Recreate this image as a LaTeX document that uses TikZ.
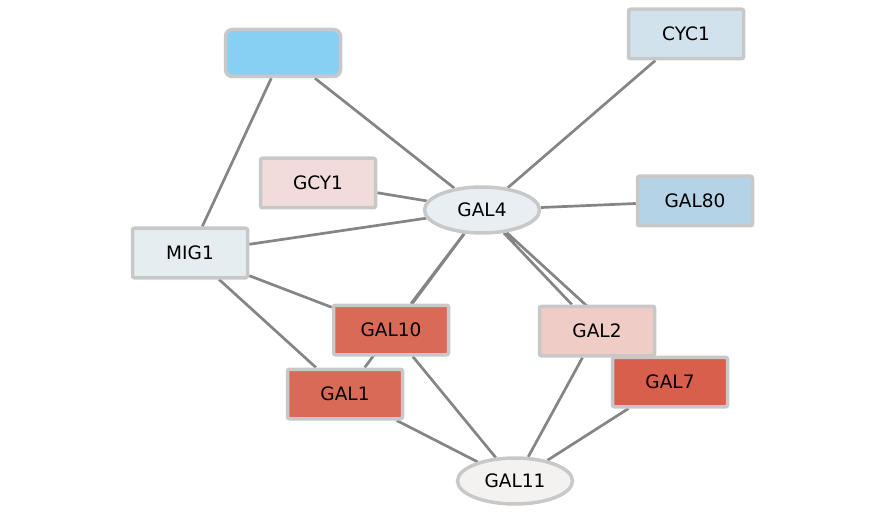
\documentclass[tikz,border=0pt]{standalone}
\usepackage{fontspec}
\setmainfont{DejaVu Sans}
\usetikzlibrary{shapes.geometric,backgrounds}
\definecolor{edgegray}{HTML}{858585}
\definecolor{rimgray}{HTML}{C8C8C8}
\definecolor{skyfill}{HTML}{88D0F3}
\definecolor{cycfill}{HTML}{D2E2EC}
\definecolor{gcyfill}{HTML}{F1DBDB}
\definecolor{galfourfill}{HTML}{E8EEF2}
\definecolor{galeightyfill}{HTML}{B4D3E6}
\definecolor{migfill}{HTML}{E6EDF1}
\definecolor{galtenfill}{HTML}{DA6A58}
\definecolor{galtwofill}{HTML}{EFCCC6}
\definecolor{galsevenfill}{HTML}{D75F4C}
\definecolor{galelevenfill}{HTML}{F4F1F1}
\tikzset{
    gene/.style = {draw = rimgray, line width = 3.5pt, rounded corners = 2pt,
        minimum width = 115pt, minimum height = 49.5pt, inner sep = 0pt,
        font = \fontsize{18.5}{22}\selectfont},
    hub/.style = {gene, ellipse, minimum height = 46pt},
    link/.style = {draw = edgegray, line width = 2.7pt}
}

\begin{document}
\begin{tikzpicture}[x = 1pt, y = -1pt]%
    \useasboundingbox (0, 0) rectangle (886, 513);
    \node[gene, fill = skyfill, rounded corners = 7pt, minimum height = 47pt] (blank) at (283, 53) {};
    \node[gene, fill = cycfill] (cyc1) at (686, 34) {CYC1};
    \node[gene, fill = gcyfill] (gcy1) at (318, 183) {GCY1};
    \node[hub, fill = galfourfill] (gal4) at (482, 210) {GAL4};
    \node[gene, fill = galeightyfill] (gal80) at (695, 201) {GAL80};
    \node[gene, fill = migfill] (mig1) at (190, 253) {MIG1};
    \node[gene, fill = galtenfill] (gal10) at (391, 330) {GAL10};
    \node[gene, fill = galtwofill] (gal2) at (597, 331) {GAL2};
    \node[gene, fill = galtenfill] (gal1) at (345, 394) {GAL1};
    \node[gene, fill = galsevenfill] (gal7) at (670, 382) {GAL7};
    \node[hub, fill = galelevenfill] (gal11) at (515, 481) {GAL11};
    \begin{scope}[on background layer]
        \draw[link] (blank) -- (mig1) (blank) -- (gal4);
        \draw[link] (cyc1) -- (gal4) (gcy1) -- (gal4) (gal80) -- (gal4);
        \draw[link] (mig1) -- (gal4) (mig1) -- (gal10) (mig1) -- (gal1);
        \draw[link] (gal4) -- (gal10) (gal4) -- (gal1);
        \draw[link] (gal4) -- (gal2) (gal4) -- (gal7);
        \draw[link] (gal10) -- (gal11) (gal1) -- (gal11);
        \draw[link] (gal2) -- (gal11) (gal7) -- (gal11);
    \end{scope}
\end{tikzpicture}
\end{document}
